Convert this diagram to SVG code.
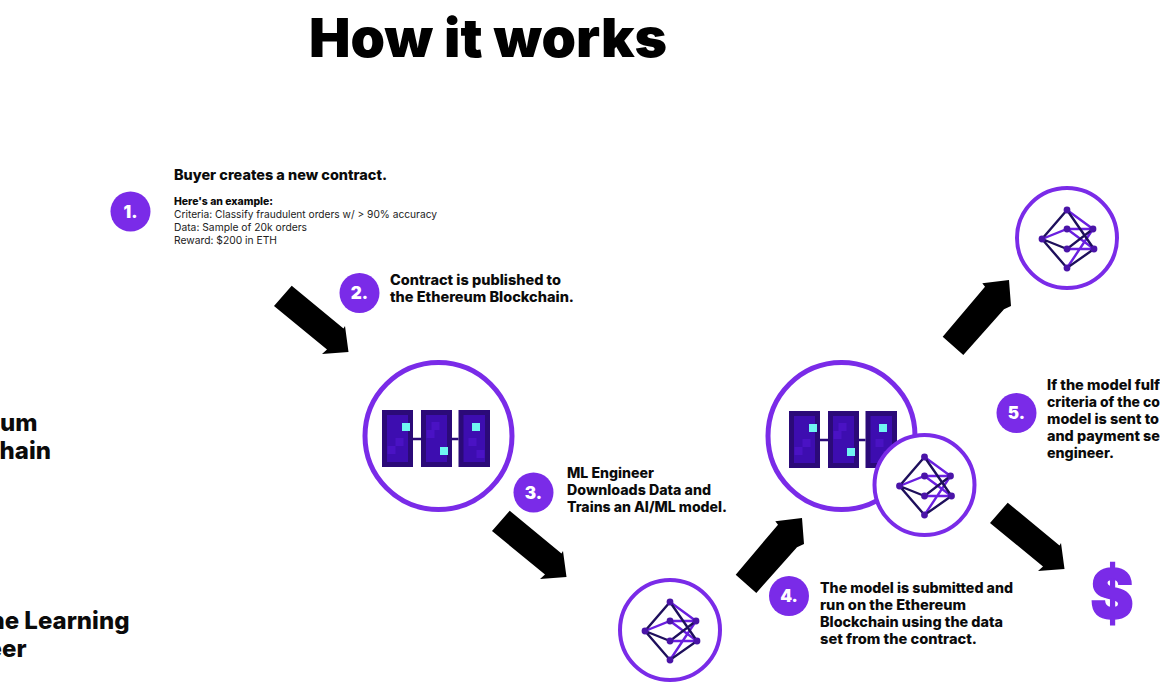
<svg xmlns="http://www.w3.org/2000/svg" width="1160" height="700" viewBox="0 0 1160 700">
<style>
text{font-family:"Inter","Liberation Sans",sans-serif;fill:#0b0b0b}
.title{font-size:54px;font-weight:900;fill:#000}
.h{font-size:14px;font-weight:800}
.s{font-size:10.6px;font-weight:400;fill:#222}
.sb{font-size:10.6px;font-weight:800}
.side{font-size:24px;font-weight:800;text-anchor:end}
.num{font-size:17px;font-weight:900;fill:#fff;text-anchor:middle}
.bad{fill:#7a2be8}
.ring{fill:#fff;stroke:#7a2be8}
.blk{fill:#2b0a78}
.blki{fill:#3d0db0}
.blot{fill:#4a12c4}
.cy{fill:#6ff5f2}
.dk{stroke:#1e0f5c;stroke-width:2.4;fill:none;stroke-linecap:round}
.pu{stroke:#6a1fe0;stroke-width:2.4;fill:none;stroke-linecap:round}
.nd{fill:#4a14a8}
</style>
<defs>
<polygon id="arrD" points="1007.7,502.7 1059.5,545.5 1061,543 1064.5,569 1038,571 1043,566.5 990,523" fill="#000"/>
<polygon id="arrU" points="942.7,336.7 985,286.7 982.3,283.3 1009,280 1011,306 1004,309.3 963.3,355" fill="#000"/>
<g id="blocks">
<rect class="blk" x="-56.5" y="-26" width="31" height="57"/><rect class="blki" x="-51.5" y="-21" width="21" height="47"/>
<rect class="blk" x="-17.5" y="-26" width="31" height="57"/><rect class="blki" x="-12.5" y="-21" width="21" height="47"/>
<rect class="blk" x="20" y="-26" width="31.5" height="57"/><rect class="blki" x="25" y="-21" width="21.5" height="47"/>
<path class="blot" d="M-51 10h8v8h-8zM-43 2h8v8h-8zM-7-14h8v8h-8zM-12-6h8v8h-8zM30 2h8v8h-8zM38 14h8v8h-8z"/>
<path d="M-25.5 3H-17.5M13.5 3H20" stroke="#2b0a78" stroke-width="2.4"/>
<rect class="cy" x="-36.5" y="-13" width="8" height="8"/>
<rect class="cy" x="1.5" y="11" width="8" height="8"/>
<rect class="cy" x="33.5" y="-13" width="8" height="8"/>
</g>
<g id="net">
<circle class="ring" r="50" stroke-width="4"/>
<path class="pu" d="M0-28L26-9M-25 1L0-9L26-9M0-9L27 11M0 11L27 11M26-9L0 30"/>
<path class="dk" d="M0-28L-25 1L0 30L27 11L0-28M-25 1L0 11L26-9"/>
<g class="nd"><circle cx="0" cy="-28" r="3.4"/><circle cx="-25" cy="1" r="3.4"/><circle cx="0" cy="-9" r="3.4"/><circle cx="26" cy="-9" r="3.4"/><circle cx="0" cy="11" r="3.4"/><circle cx="27" cy="11" r="3.4"/><circle cx="0" cy="30" r="3.4"/></g>
</g>
</defs>
<text class="title" x="309" y="57" textLength="358" lengthAdjust="spacingAndGlyphs">How it works</text>
<g id="connectors">
<use href="#arrD" transform="translate(-716,-217)"/>
<use href="#arrD" transform="translate(-498,8)"/>
<use href="#arrD"/>
<use href="#arrU"/>
<use href="#arrU" transform="translate(-207,238)"/>
</g>
<g id="step1"><circle class="bad" cx="130.5" cy="211.5" r="20"/><text class="num" x="130.5" y="217.5">1.</text>
<text class="h" x="174" y="180" textLength="213" lengthAdjust="spacingAndGlyphs">Buyer creates a new contract.</text>
<text class="sb" x="174" y="205" textLength="99" lengthAdjust="spacingAndGlyphs">Here's an example:</text>
<text class="s" x="174" y="218" textLength="263" lengthAdjust="spacingAndGlyphs">Criteria: Classify fraudulent orders w/ &gt; 90% accuracy</text>
<text class="s" x="174" y="231" textLength="133" lengthAdjust="spacingAndGlyphs">Data: Sample of 20k orders</text>
<text class="s" x="174" y="244" textLength="103" lengthAdjust="spacingAndGlyphs">Reward: $200 in ETH</text></g>
<g id="step2"><circle class="bad" cx="359.5" cy="293" r="20"/><text class="num" x="359.5" y="299">2.</text>
<text class="h" x="390" y="285" textLength="171" lengthAdjust="spacingAndGlyphs">Contract is published to</text>
<text class="h" x="390" y="302" textLength="184" lengthAdjust="spacingAndGlyphs">the Ethereum Blockchain.</text></g>
<g id="step3"><circle class="bad" cx="533.5" cy="492.5" r="20"/><text class="num" x="533.5" y="498.5">3.</text>
<text class="h" x="567" y="478" textLength="87" lengthAdjust="spacingAndGlyphs">ML Engineer</text>
<text class="h" x="567" y="495" textLength="144" lengthAdjust="spacingAndGlyphs">Downloads Data and</text>
<text class="h" x="567" y="512" textLength="160" lengthAdjust="spacingAndGlyphs">Trains an AI/ML model.</text></g>
<g id="step4"><circle class="bad" cx="789" cy="596" r="20"/><text class="num" x="789" y="602">4.</text>
<text class="h" x="820" y="593" textLength="193" lengthAdjust="spacingAndGlyphs">The model is submitted and</text>
<text class="h" x="820" y="610" textLength="146" lengthAdjust="spacingAndGlyphs">run on the Ethereum</text>
<text class="h" x="820" y="627" textLength="183" lengthAdjust="spacingAndGlyphs">Blockchain using the data</text>
<text class="h" x="820" y="644" textLength="157" lengthAdjust="spacingAndGlyphs">set from the contract.</text></g>
<g id="step5"><circle class="bad" cx="1016.5" cy="413" r="20"/><text class="num" x="1016.5" y="419">5.</text>
<text class="h" x="1047" y="390" textLength="113" lengthAdjust="spacingAndGlyphs">If the model fulf</text>
<text class="h" x="1047" y="407" textLength="113" lengthAdjust="spacingAndGlyphs">criteria of the co</text>
<text class="h" x="1047" y="424" textLength="112" lengthAdjust="spacingAndGlyphs">model is sent to</text>
<text class="h" x="1047" y="441" textLength="113" lengthAdjust="spacingAndGlyphs">and payment se</text>
<text class="h" x="1047" y="458" textLength="67" lengthAdjust="spacingAndGlyphs">engineer.</text></g>
<g id="blockchain1"><circle class="ring" cx="438.5" cy="436" r="73.5" stroke-width="5"/><use href="#blocks" x="438.5" y="436"/></g>
<g id="blockchain2"><circle class="ring" cx="841.5" cy="436" r="73.5" stroke-width="5"/><use href="#blocks" x="845.5" y="437"/></g>
<g id="model-bottom"><use href="#net" x="670" y="630"/></g>
<g id="model-mid"><use href="#net" x="924.5" y="485"/></g>
<g id="model-top"><use href="#net" x="1067" y="238"/></g>
<g id="payment"><text transform="translate(1112 618) scale(0.95 1)" font-size="68" font-weight="900" text-anchor="middle" style="fill:#7a2be8;stroke:#7a2be8;stroke-width:1.5">$</text></g>
<g id="side-labels">
<text class="side" x="37.5" y="430.5">eum</text>
<text class="side" x="51" y="458.5">hain</text>
<text class="side" x="129.5" y="628.5">ne Learning</text>
<text class="side" x="26.5" y="656.5">eer</text>
</g>
</svg>
